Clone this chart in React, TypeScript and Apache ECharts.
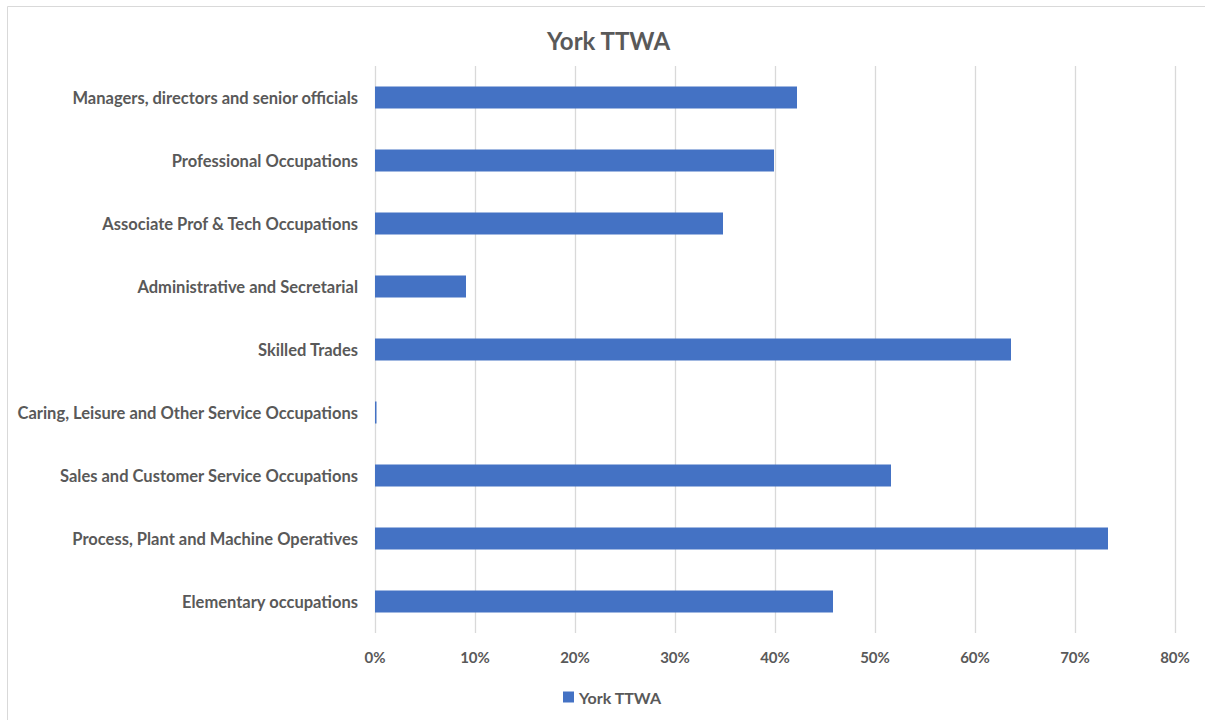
import React, { useEffect, useRef } from "react";
import * as echarts from "echarts";

const categories = [
  "Managers, directors and senior officials",
  "Professional Occupations",
  "Associate Prof & Tech Occupations",
  "Administrative and Secretarial",
  "Skilled Trades",
  "Caring, Leisure and Other Service Occupations",
  "Sales and Customer Service Occupations",
  "Process, Plant and Machine Operatives",
  "Elementary occupations",
];

const seriesName = "York TTWA";
const values = [0.422, 0.399, 0.348, 0.091, 0.636, 0.0015, 0.516, 0.733, 0.458];

const FONT = "Lato, 'Open Sans', sans-serif";
const TEXT = "#595959";

export default function App() {
  const ref = useRef<HTMLDivElement>(null);
  useEffect(() => {
    const chart = echarts.init(ref.current!, null, { renderer: "svg" });
    chart.setOption({
      animation: false,
      backgroundColor: "#ffffff",
      title: {
        text: seriesName,
        left: 542,
        top: 23,
        textStyle: { fontFamily: FONT, fontSize: 24, fontWeight: "bold", color: TEXT },
      },
      graphic: [
        {
          type: "rect",
          shape: { x: 7.5, y: 6.5, width: 1210, height: 730 },
          style: { fill: "none", stroke: "#d9d9d9", lineWidth: 1 },
          silent: true,
        },
      ],
      legend: {
        bottom: 10,
        left: 558,
        itemWidth: 11,
        itemHeight: 11,
        itemGap: 4,
        icon: "rect",
        textStyle: { fontFamily: FONT, fontSize: 16, fontWeight: "bold", color: TEXT },
        data: [seriesName],
      },
      grid: { left: 375, right: 30, top: 66, bottom: 87, containLabel: false },
      xAxis: {
        type: "value",
        min: 0,
        max: 0.8,
        interval: 0.1,
        axisLine: { show: false },
        axisTick: { show: false },
        splitLine: { show: true, lineStyle: { color: "#d9d9d9", width: 1.3 } },
        axisLabel: {
          margin: 16,
          fontFamily: FONT,
          fontSize: 15,
          fontWeight: "bold",
          color: TEXT,
          formatter: (v: number) => Math.round(v * 100) + "%",
        },
      },
      yAxis: {
        type: "category",
        inverse: true,
        data: categories,
        axisLine: { show: false },
        axisTick: { show: false },
        axisLabel: {
          margin: 17,
          fontFamily: FONT,
          fontSize: 16.5,
          fontWeight: "bold",
          color: TEXT,
        },
      },
      series: [
        {
          name: seriesName,
          type: "bar",
          data: values,
          barWidth: 22,
          itemStyle: { color: "#4472C4" },
        },
      ],
    });
    return () => chart.dispose();
  }, []);
  return (
    <div
      ref={ref}
      style={{ position: "fixed", left: 0, top: 0, width: 1205, height: 720 }}
    />
  );
}
